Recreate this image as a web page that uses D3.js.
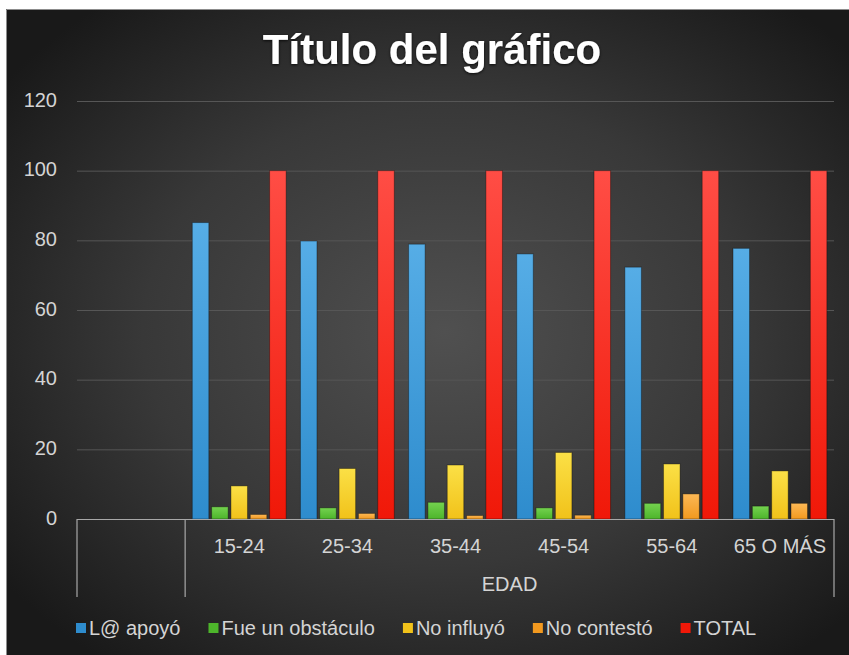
<!DOCTYPE html>
<html>
<head>
<meta charset="utf-8">
<script src="https://cdn.jsdelivr.net/npm/d3@7"></script>
<style>
  html, body { margin: 0; padding: 0; background: #ffffff; }
  svg { display: block; }
  text { font-family: "Liberation Sans", Arial, sans-serif; }
</style>
</head>
<body>
<svg id="chart" width="849" height="655"></svg>
<script>
// Categories (the first one is an empty slot in the axis)
const categories = ["", "15-24", "25-34", "35-44", "45-54", "55-64", "65 O MÁS"];
const groupLabel = "EDAD";

// Series values per age range (percent)
const seriesNames = ["L@ apoyó", "Fue un obstáculo", "No influyó", "No contestó", "TOTAL"];
const apoyo      = [null, 85.1, 79.8, 78.9, 76.1, 72.3, 77.7];
const obstaculo  = [null, 3.5, 3.2, 4.8, 3.2, 4.5, 3.7];
const noInfluyo  = [null, 9.5, 14.5, 15.5, 19.1, 15.8, 13.8];
const noContesto = [null, 1.3, 1.6, 1.0, 1.1, 7.2, 4.5];
const total      = [null, 100, 100, 100, 100, 100, 100];

const yTicks = [0, 20, 40, 60, 80, 100, 120];

const seriesValues = [apoyo, obstaculo, noInfluyo, noContesto, total];
const colors = [
  ["#56ade6", "#2e8ccd"],
  ["#74d24f", "#4db52b"],
  ["#fbe046", "#f1c21a"],
  ["#fcb855", "#f2991f"],
  ["#ff4d45", "#f01808"]
];

const svg = d3.select("#chart");
const W = 849, H = 655;

// Chart area with radial shading
const defs = svg.append("defs");
const bg = defs.append("radialGradient").attr("id", "bgGrad")
  .attr("cx", "52%").attr("cy", "50%").attr("r", "65%");
bg.append("stop").attr("offset", "0%").attr("stop-color", "#505050");
bg.append("stop").attr("offset", "55%").attr("stop-color", "#383838");
bg.append("stop").attr("offset", "100%").attr("stop-color", "#191919");

colors.forEach((c, i) => {
  const g = defs.append("linearGradient").attr("id", "bar" + i)
    .attr("x1", 0).attr("y1", 0).attr("x2", 0).attr("y2", 1);
  g.append("stop").attr("offset", "0%").attr("stop-color", c[0]);
  g.append("stop").attr("offset", "100%").attr("stop-color", c[1]);
});

const shadow = defs.append("filter").attr("id", "titleShadow")
  .attr("x", "-10%").attr("y", "-30%").attr("width", "120%").attr("height", "160%");
shadow.append("feDropShadow").attr("dx", 0).attr("dy", 1).attr("stdDeviation", 1.5)
  .attr("flood-color", "#000").attr("flood-opacity", 0.8);

svg.append("rect").attr("x", 6).attr("y", 9).attr("width", W - 6).attr("height", H - 9)
  .attr("fill", "url(#bgGrad)");
// Frame edges along the top and left
svg.append("path").attr("d", `M6.5,${H} V9.5 H${W}`)
  .attr("fill", "none").attr("stroke", "#8c8c8c").attr("stroke-width", 1);

// Title
svg.append("text")
  .attr("x", 432).attr("y", 64)
  .attr("text-anchor", "middle")
  .attr("fill", "#ffffff")
  .attr("font-size", 42).attr("font-weight", "bold")
  .attr("filter", "url(#titleShadow)")
  .text("Título del gráfico");

// Scales
const plot = { left: 77, right: 834, top: 101, bottom: 519 };
const x0 = d3.scaleBand().domain(categories.map((d, i) => i))
  .range([plot.left, plot.right]).padding(0);
const x1 = d3.scaleBand().domain(seriesNames)
  .range([0, x0.bandwidth()]).paddingInner(0.145).paddingOuter(0.37);
const y = d3.scaleLinear().domain([0, 120]).range([plot.bottom, plot.top]);

// Gridlines and y-axis labels
const yAxis = d3.axisLeft(y).tickValues(yTicks).tickSize(-(plot.right - plot.left)).tickPadding(20);
const ya = svg.append("g").attr("transform", `translate(${plot.left},0)`).call(yAxis);
ya.select(".domain").remove();
ya.selectAll(".tick line").attr("stroke", "#565656").attr("stroke-width", 1)
  .filter(d => d === 0).remove();
ya.selectAll(".tick text").attr("fill", "#d4d4d4").attr("font-size", 20)
  .attr("dy", "0.25em");

// Bars
const groups = svg.append("g").selectAll("g")
  .data(categories.map((c, i) => i))
  .join("g")
  .attr("transform", i => `translate(${x0(i)},0)`);

groups.selectAll("rect")
  .data(i => seriesNames.map((s, k) => ({ k, s, v: seriesValues[k][i] })).filter(d => d.v != null))
  .join("rect")
  .attr("x", d => x1(d.s))
  .attr("width", x1.bandwidth())
  .attr("y", d => y(d.v))
  .attr("height", d => y(0) - y(d.v))
  .attr("fill", d => `url(#bar${d.k})`)
  .attr("stroke", "rgba(0,0,0,0.35)")
  .attr("stroke-width", 1);

// Category axis (two levels)
const axisColor = "#a8a8a8";
const axisG = svg.append("g");
axisG.append("line")
  .attr("x1", plot.left).attr("x2", plot.right)
  .attr("y1", plot.bottom + 0.5).attr("y2", plot.bottom + 0.5)
  .attr("stroke", axisColor).attr("stroke-width", 1.2);

const firstGroup = x0(1);
[plot.left, firstGroup, plot.right].forEach(xv => {
  axisG.append("line")
    .attr("x1", xv).attr("x2", xv)
    .attr("y1", plot.bottom).attr("y2", 597)
    .attr("stroke", axisColor).attr("stroke-width", 1.2);
});

axisG.selectAll("text.cat")
  .data(categories.map((c, i) => ({ c, i })).filter(d => d.c !== ""))
  .join("text").attr("class", "cat")
  .attr("x", d => x0(d.i) + x0.bandwidth() / 2)
  .attr("y", 553)
  .attr("text-anchor", "middle")
  .attr("fill", "#d4d4d4").attr("font-size", 20)
  .text(d => d.c);

axisG.append("text")
  .attr("x", (firstGroup + plot.right) / 2)
  .attr("y", 591)
  .attr("text-anchor", "middle")
  .attr("fill", "#d4d4d4").attr("font-size", 20)
  .text(groupLabel);

// Legend
const legend = svg.append("g").attr("transform", "translate(76,628)");
let lx = 0;
seriesNames.forEach((name, k) => {
  const item = legend.append("g").attr("transform", `translate(${lx},0)`);
  item.append("rect").attr("x", 0).attr("y", -5).attr("width", 10).attr("height", 10)
    .attr("fill", colors[k][1]);
  const t = item.append("text").attr("x", 13).attr("y", 7)
    .attr("fill", "#d4d4d4").attr("font-size", 20).text(name);
  lx += 13 + t.node().getComputedTextLength() + 28;
});
</script>
</body>
</html>
